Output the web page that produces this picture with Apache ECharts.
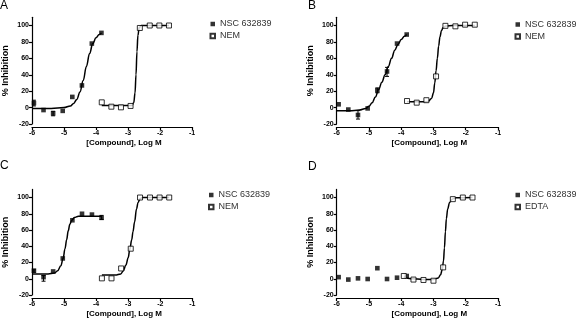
<!DOCTYPE html>
<html>
<head>
<meta charset="utf-8">
<script src="https://cdn.jsdelivr.net/npm/echarts@6/dist/echarts.min.js"></script>
<style>
  html, body { margin: 0; padding: 0; background: #fff; }
  #chart { width: 576px; height: 321px; }
</style>
</head>
<body>
<div id="chart"></div>
<script>
// Axis ticks shared by all four panels
const xTicks = [-6, -5, -4, -3, -2, -1];
const yTicks = [-20, 0, 20, 40, 60, 80, 100];

// Log molar concentrations of the dilution series
const nscDoses = [-5.94, -5.64, -5.34, -5.04, -4.74, -4.44, -4.13, -3.83];
const nemDoses = [-3.82, -3.52, -3.22, -2.92, -2.63, -2.32, -2.02, -1.72];
const edtaDoses = [-3.92, -3.62, -3.31, -3.0, -2.70, -2.40, -2.09, -1.79];

// Panel A
const aNsc = [5.5, -3, -7, -4, 13, 27, 78, 91];
const aNem = [6.4, 1.1, 0.3, 2, 97, 100, 100, 100];
const aNscErr = [[-5.94, 2, 9], [-5.34, -10, -4.5]];
const aNscFit = [[-6, -1], [-5.4, -1], [-5.0, 0], [-4.8, 2], [-4.7, 5], [-4.6, 10], [-4.5, 19], [-4.4, 33], [-4.3, 50], [-4.2, 66], [-4.1, 78], [-4.0, 85], [-3.9, 89], [-3.83, 91]];
const aNemFit = [[-3.82, 2.5], [-3.2, 2.5], [-2.88, 2.5], [-2.82, 6], [-2.78, 18], [-2.75, 40], [-2.72, 68], [-2.69, 88], [-2.65, 97.5], [-2.58, 100], [-1.72, 100]];

// Panel B
const bNsc = [4, -2.4, -9, -1, 21, 44, 78, 89];
const bNem = [8, 6, 9, 38, 99.6, 99, 101, 101];
const bNscErr = [[-5.34, -14, -3.7], [-4.44, 38, 49], [-4.74, 18, 24]];
const bNscFit = [[-6, -4], [-5.6, -4], [-5.3, -3], [-5.1, -1], [-5.0, 1.5], [-4.9, 6], [-4.8, 13], [-4.7, 22], [-4.6, 31], [-4.5, 40], [-4.4, 50], [-4.3, 60], [-4.2, 70], [-4.1, 77], [-4.0, 83], [-3.9, 87], [-3.83, 89]];
const bNemFit = [[-3.82, 7], [-3.3, 7], [-3.17, 7.5], [-3.06, 11], [-3.0, 18], [-2.96, 30], [-2.92, 45], [-2.88, 60], [-2.84, 75], [-2.8, 86], [-2.75, 94], [-2.7, 97.5], [-2.62, 99.5], [-2.4, 100], [-1.72, 100]];

// Panel C
const cNsc = [10, 2, 9, 25, 72, 80, 79, 75];
const cNem = [0.5, 0.5, 12.7, 37, 100, 100, 100, 100];
const cNscErr = [[-5.94, 8, 11], [-5.64, -3, 4], [-3.83, 73, 78]];
const cNscFit = [[-6, 6], [-5.5, 6], [-5.3, 7], [-5.2, 10], [-5.1, 16], [-5.03, 25], [-4.97, 37], [-4.92, 48], [-4.87, 59], [-4.82, 67], [-4.76, 72], [-4.68, 75.5], [-4.55, 77], [-3.83, 77]];
const cNemFit = [[-3.82, 4.5], [-3.4, 4.5], [-3.23, 6], [-3.15, 10], [-3.07, 17], [-3.0, 26], [-2.95, 36], [-2.89, 48], [-2.85, 58], [-2.8, 70], [-2.74, 86], [-2.69, 94], [-2.63, 98.5], [-2.55, 100], [-1.72, 100]];

// Panel D
const dNsc = [2, -1, 0.5, -0.3, 13, -0.3, 1.3, 3.4];
const dEdta = [3.4, -1, -1.5, -2.4, 14, 98, 100, 100];
const dEdtaFit = [[-3.92, 2.5], [-3.7, 0], [-3.3, -0.8], [-3.0, -0.8], [-2.85, 1], [-2.78, 5], [-2.73, 11], [-2.69, 22], [-2.66, 38], [-2.63, 58], [-2.6, 74], [-2.56, 86], [-2.5, 94], [-2.42, 98], [-2.3, 99.7], [-1.79, 100]];

const panelLetters = ['A', 'B', 'C', 'D'];
const nscName = 'NSC 632839';

const grids = [
  { left: 31, top: 17.3, width: 161, height: 106.7 },
  { left: 336.7, top: 17.3, width: 161.3, height: 106.7 },
  { left: 30, top: 189.4, width: 162.3, height: 105.6 },
  { left: 336.7, top: 189.4, width: 161.3, height: 105.6 }
];
const legendPos = [
  { left: 209.5, top: 19 },
  { left: 514.5, top: 19.5 },
  { left: 208, top: 190 },
  { left: 514.5, top: 190 }
];
const titlePos = [
  { left: 0, top: 0 },
  { left: 308, top: 0 },
  { left: 0, top: 160 },
  { left: 308, top: 161 }
];

const labelFont = 'Liberation Sans, Arial, sans-serif';

function pairs(xs, ys) { return xs.map((x, i) => [x, ys[i]]); }

function pointSeries(name, idx, xs, ys, open) {
  return {
    type: 'scatter', name: name, xAxisIndex: idx, yAxisIndex: idx,
    symbol: 'rect', symbolSize: open ? 5 : 4.6, z: 4,
    itemStyle: open ? { color: '#fff', borderColor: '#000', borderWidth: 1 } : { color: '#000' },
    data: pairs(xs, ys), silent: true
  };
}
function fitSeries(idx, pts) {
  return {
    type: 'line', name: 'fit' + idx, xAxisIndex: idx, yAxisIndex: idx,
    data: pts, showSymbol: false, smooth: 0.4, smoothMonotone: 'x', z: 3,
    lineStyle: { color: '#000', width: 1.5 }, silent: true
  };
}
function errSeries(idx, rows) {
  return {
    type: 'custom', name: 'err' + idx, xAxisIndex: idx, yAxisIndex: idx, z: 2, silent: true,
    data: rows,
    renderItem: function (params, api) {
      const x = api.value(0);
      const lo = api.coord([x, api.value(1)]);
      const hi = api.coord([x, api.value(2)]);
      const w = 2;
      return {
        type: 'group',
        children: [
          { type: 'line', shape: { x1: lo[0], y1: lo[1], x2: hi[0], y2: hi[1] }, style: { stroke: '#000', lineWidth: 1 } },
          { type: 'line', shape: { x1: lo[0] - w, y1: lo[1], x2: lo[0] + w, y2: lo[1] }, style: { stroke: '#000', lineWidth: 1 } },
          { type: 'line', shape: { x1: hi[0] - w, y1: hi[1], x2: hi[0] + w, y2: hi[1] }, style: { stroke: '#000', lineWidth: 1 } }
        ]
      };
    }
  };
}

const xAxes = grids.map((g, i) => ({
  type: 'value', gridIndex: i, min: -6, max: -1, interval: 1, offset: 3,
  name: '[Compound], Log M', nameLocation: 'middle', nameGap: 12,
  nameTextStyle: { fontFamily: labelFont, fontSize: 8, fontWeight: 'bold', color: '#000', padding: [0, 0, 0, 24] },
  axisLine: { show: true, onZero: false, lineStyle: { color: '#000', width: 1.2 } },
  axisTick: { show: true, length: 3, lineStyle: { color: '#000', width: 1.2 } },
  axisLabel: { fontFamily: labelFont, fontSize: 7, fontWeight: 'bold', color: '#000', margin: 3 },
  splitLine: { show: false }
}));
const yAxes = grids.map((g, i) => ({
  type: 'value', gridIndex: i, min: -20, max: 110,
  name: '% Inhibition', nameLocation: 'middle', nameGap: 22,
  nameTextStyle: { fontFamily: labelFont, fontSize: 9, fontWeight: 'bold', color: '#000' },
  axisLine: { show: true, onZero: false, lineStyle: { color: '#000', width: 1.2 } },
  axisTick: { show: true, length: 3, customValues: yTicks, lineStyle: { color: '#000', width: 1.2 } },
  axisLabel: { fontFamily: labelFont, fontSize: 7, fontWeight: 'bold', color: '#000', margin: 3, customValues: yTicks },
  splitLine: { show: false }
}));

const series = [
  fitSeries(0, aNscFit), fitSeries(0, aNemFit), errSeries(0, aNscErr),
  pointSeries(nscName, 0, nscDoses, aNsc, false), pointSeries('NEM', 0, nemDoses, aNem, true),
  fitSeries(1, bNscFit), fitSeries(1, bNemFit), errSeries(1, bNscErr),
  pointSeries(nscName, 1, nscDoses, bNsc, false), pointSeries('NEM', 1, nemDoses, bNem, true),
  fitSeries(2, cNscFit), fitSeries(2, cNemFit), errSeries(2, cNscErr),
  pointSeries(nscName, 2, nscDoses, cNsc, false), pointSeries('NEM', 2, nemDoses, cNem, true),
  fitSeries(3, dEdtaFit),
  pointSeries(nscName, 3, nscDoses, dNsc, false), pointSeries('EDTA', 3, edtaDoses, dEdta, true)
];

const legendNames = [[nscName, 'NEM'], [nscName, 'NEM'], [nscName, 'NEM'], [nscName, 'EDTA']];
const legends = legendPos.map((p, i) => ({
  left: p.left, top: p.top, orient: 'vertical', padding: 0,
  itemWidth: 4.5, itemHeight: 4.5, itemGap: 2, selectedMode: false,
  data: legendNames[i],
  textStyle: { fontFamily: labelFont, fontSize: 9, color: '#333', lineHeight: 10 }
}));

const titles = titlePos.map((p, i) => ({
  text: panelLetters[i], left: p.left, top: p.top, padding: 0,
  textStyle: { fontFamily: labelFont, fontSize: 12, fontWeight: 'normal', color: '#000' }
}));

const chart = echarts.init(document.getElementById('chart'), null, { renderer: 'canvas' });
chart.setOption({
  animation: false,
  backgroundColor: '#fff',
  title: titles,
  legend: legends,
  grid: grids,
  xAxis: xAxes,
  yAxis: yAxes,
  series: series
});
</script>
</body>
</html>
